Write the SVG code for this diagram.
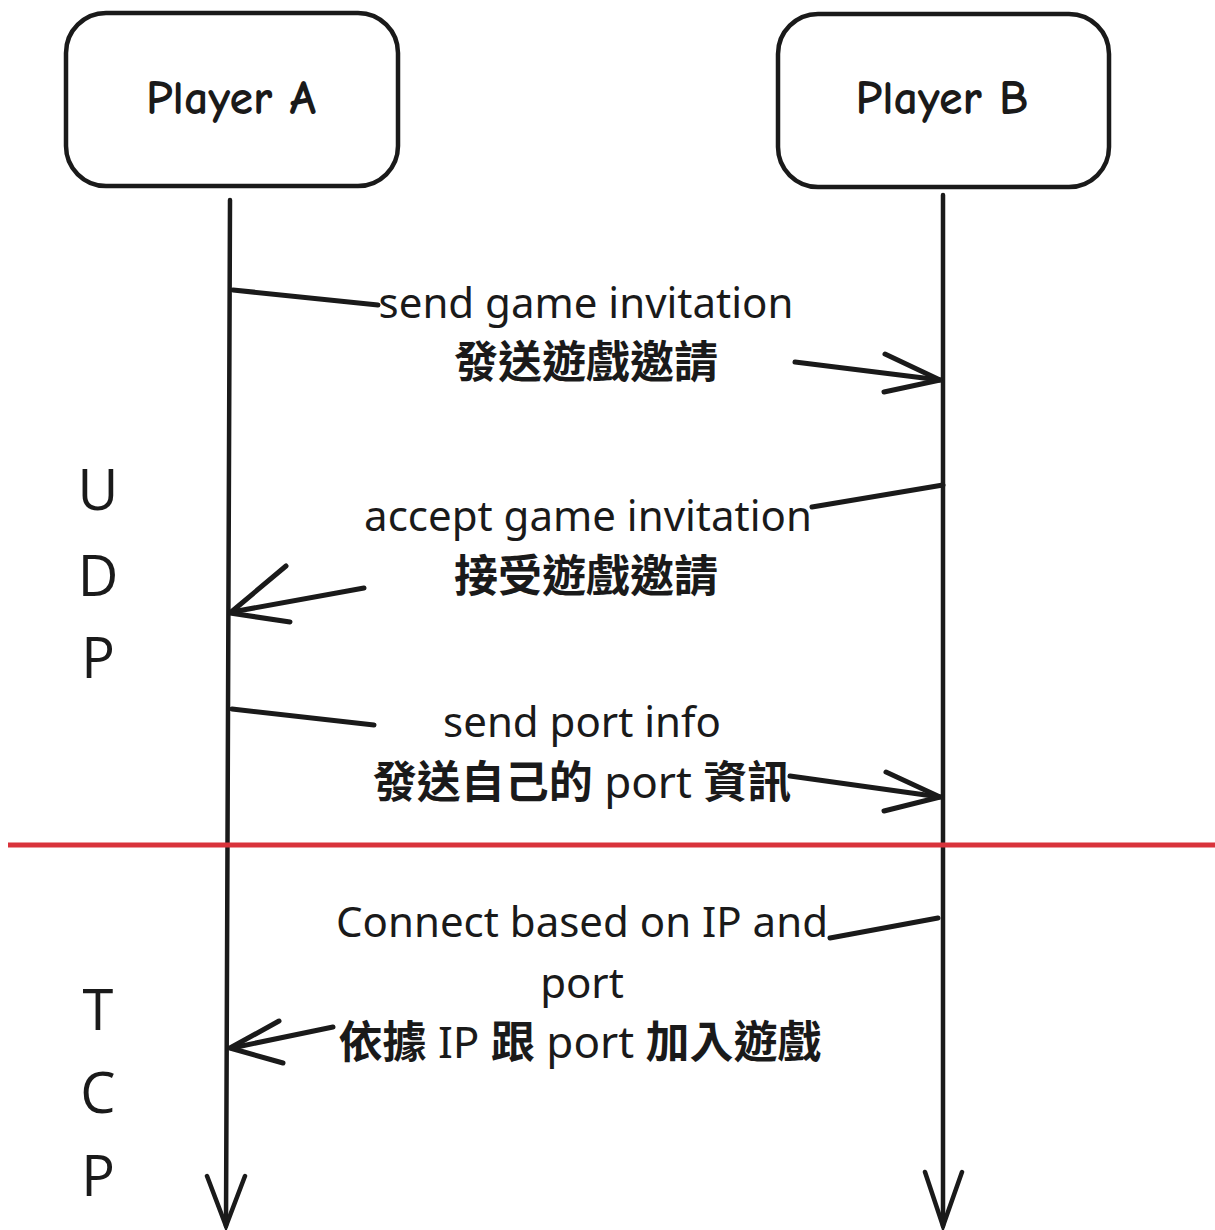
<svg xmlns="http://www.w3.org/2000/svg" width="1215" height="1230" viewBox="0 0 1215 1230">
<style>
.box{fill:#fff;stroke:#1a1a1a;stroke-width:4.5}
.life{fill:none;stroke:#1a1a1a;stroke-width:4.5;stroke-linecap:round}
.msg{fill:none;stroke:#1a1a1a;stroke-width:5;stroke-linecap:round;stroke-linejoin:round}
.name{font-family:"Comic Neue","DejaVu Sans",sans-serif;font-size:48px;font-weight:bold;fill:#1a1a1a;text-anchor:middle}
.en{font-family:"Noto Sans","Open Sans",sans-serif;font-size:42px;fill:#1a1a1a;text-anchor:middle}
.zh{font-family:"Noto Sans","Noto Sans CJK TC",sans-serif;font-size:44px;font-weight:bold;fill:#1a1a1a;text-anchor:middle}
.lat{font-weight:normal}
.side{font-family:"Open Sans","Noto Sans",sans-serif;font-size:56px;fill:#1a1a1a;text-anchor:middle}
</style>
<rect width="1215" height="1230" fill="#fff"/>
<g id="playerA">
<rect class="box" x="66" y="13" width="332" height="173" rx="40"/>
<text class="name" x="231" y="114">Player A</text>
</g>
<g id="playerB">
<rect class="box" x="778" y="14" width="331" height="173" rx="40"/>
<text class="name" x="942" y="114">Player B</text>
</g>
<g id="sideLabels">
<text class="side" x="98" y="510">U</text>
<text class="side" x="98" y="596">D</text>
<text class="side" x="98" y="678">P</text>
<text class="side" x="98" y="1030">T</text>
<text class="side" x="98" y="1113">C</text>
<text class="side" x="98" y="1196">P</text>
</g>
<g id="connectors">
<path class="life" d="M230 200 L226 1226"/>
<path class="life" d="M207 1176 L226 1226 L245 1176"/>
<path class="life" d="M943 195 L943 1226"/>
<path class="life" d="M925 1172 L943 1226 L962 1172"/>
<path d="M8 845 L1215 845" stroke="#d9333b" stroke-width="5"/>
<path class="msg" d="M233 290 L378 305"/>
<path class="msg" d="M795 362 L940 380"/>
<path class="msg" d="M885 354 L940 380 L884 392"/>
<path class="msg" d="M943 485 L812 507"/>
<path class="msg" d="M364 588 L232 612"/>
<path class="msg" d="M286 566 L230 613 L290 622"/>
<path class="msg" d="M232 709 L374 725"/>
<path class="msg" d="M790 776 L940 797"/>
<path class="msg" d="M886 772 L940 797 L884 811"/>
<path class="msg" d="M938 918 L830 938"/>
<path class="msg" d="M333 1027 L232 1048"/>
<path class="msg" d="M279 1021 L230 1048 L283 1063"/>
</g>
<g id="labels">
<text class="en" x="586" y="318">send game invitation</text>
<text class="zh" x="586" y="378">發送遊戲邀請</text>
<text class="en" x="588" y="531">accept game invitation</text>
<text class="zh" x="586" y="592">接受遊戲邀請</text>
<text class="en" x="582" y="737">send port info</text>
<text class="zh" x="582" y="798">發送自己的<tspan class="lat"> port </tspan>資訊</text>
<text class="en" x="582" y="937">Connect based on IP and</text>
<text class="en" x="582" y="998">port</text>
<text class="zh" x="580" y="1058">依據<tspan class="lat"> IP </tspan>跟<tspan class="lat"> port </tspan>加入遊戲</text>
</g>
</svg>
